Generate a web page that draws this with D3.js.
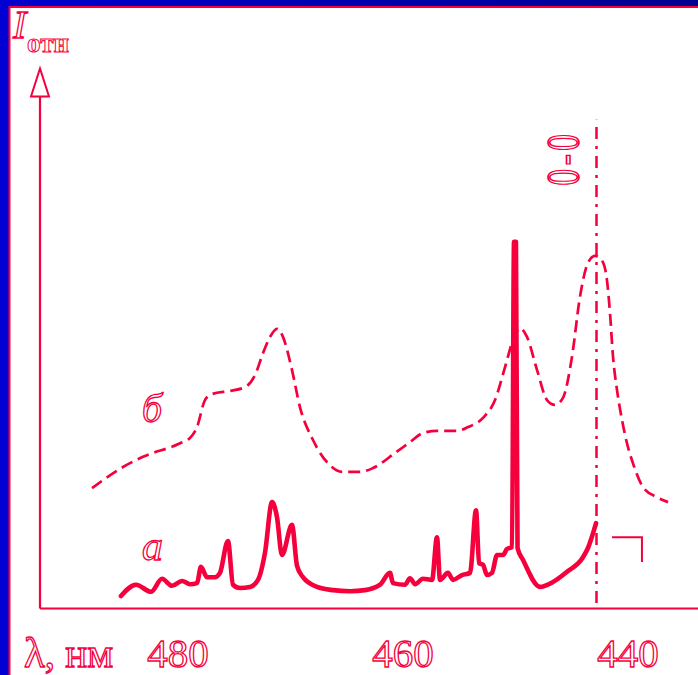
<!DOCTYPE html>
<html>
<head>
<meta charset="utf-8">
<script src="https://cdn.jsdelivr.net/npm/d3@7"></script>
<style>
  html, body { margin: 0; padding: 0; background: #ffffff; }
  svg { display: block; }
</style>
</head>
<body>
<script>
// Emission spectra: relative intensity vs wavelength (nm)
// Curve "а" (solid) — line spectrum
const lambdaA = [485.07, 483.73, 482.40, 481.42, 480.53, 479.64, 478.93, 478.31, 477.96, 477.42,
  476.71, 476.27, 475.56, 475.11, 474.49, 473.60, 472.89, 472.27, 471.64, 471.20,
  470.76, 469.87, 469.42, 468.89, 467.64, 466.22, 464.71, 463.38, 462.04, 461.16,
  460.89, 459.82, 459.38, 458.93, 458.22, 457.42, 456.98, 456.71, 456.00, 455.56,
  454.76, 454.04, 453.51, 453.24, 452.89, 452.53, 452.09, 451.64, 451.11, 450.76,
  450.31, 450.13, 449.96, 449.82, 449.33, 447.82, 446.67, 445.42, 444.00, 443.56, 442.84];
const intensityA = [2.3, 4.4, 3.1, 5.5, 4.2, 5.1, 4.5, 4.7, 7.7, 5.8,
  5.8, 6.6, 12.5, 4.4, 3.8, 4.0, 5.3, 10.3, 19.7, 16.9,
  9.9, 15.5, 7.9, 5.8, 4.0, 3.4, 3.2, 3.4, 4.4, 6.6,
  4.7, 4.4, 5.6, 4.5, 5.5, 5.3, 13.2, 5.3, 6.6, 5.3,
  6.2, 6.6, 18.2, 8.4, 8.1, 6.2, 6.6, 9.9, 9.9, 11.0,
  11.4, 67.9, 67.9, 11.2, 9.0, 4.0, 4.9, 6.8, 9.5, 11.2, 15.8];

// Curve "б" (dashed) — band spectrum
const lambdaB = [487.64, 484.89, 483.11, 479.82, 478.93, 478.31, 477.60, 476.98, 475.38, 474.04,
  473.16, 472.44, 471.82, 471.20, 470.67, 469.87, 469.16, 468.00, 466.67, 465.33,
  463.82, 462.67, 460.71, 459.38, 458.22, 456.98, 455.20, 454.22, 452.89, 451.82,
  450.93, 450.22, 449.60, 448.98, 448.09, 447.20, 446.49, 445.78, 444.98, 444.27,
  443.56, 442.93, 442.31, 441.87, 441.60, 441.33, 440.98, 440.53, 440.09, 439.56,
  438.67, 437.42, 436.44];
const intensityB = [22.3, 26.2, 28.1, 30.6, 31.6, 33.6, 38.6, 39.7, 40.3, 41.0,
  43.2, 47.3, 50.3, 51.8, 50.3, 44.2, 37.3, 31.2, 26.9, 25.3,
  25.3, 26.0, 28.8, 30.8, 32.5, 32.9, 32.9, 33.6, 35.3, 38.6,
  44.7, 49.7, 51.9, 50.3, 44.2, 38.6, 37.7, 39.0, 46.6, 57.7,
  64.0, 65.3, 64.4, 60.8, 54.7, 46.6, 40.5, 34.9, 30.6, 26.9,
  22.5, 20.6, 19.7];

// Wavelength axis ticks
const tickValues = [480, 460, 440];
const tickLabels = ["480", "460", "440"];

// 0–0 transition wavelength (dash-dot marker) and its extent in intensity
const lambda00 = 442.8;
const marker00Range = [1, 90.5];

// Small corner mark near the 0–0 line
const cornerLambda = [441.42, 438.76, 438.76];
const cornerIntensity = [13.2, 13.2, 8.6];

const W = 698, H = 675;
const RED = "#f5003c";

const svg = d3.select("body").append("svg")
  .attr("width", W).attr("height", H);

svg.append("rect").attr("width", W).attr("height", H).attr("fill", "#ffffff");

// Blue border bands with a thin red rule inside
const grad = svg.append("defs").append("linearGradient")
  .attr("id", "topBand").attr("x1", "0").attr("x2", "1");
grad.append("stop").attr("offset", "0").attr("stop-color", "#0000d0");
grad.append("stop").attr("offset", "1").attr("stop-color", "#000090");
svg.append("rect").attr("x", 0).attr("y", 0).attr("width", W).attr("height", 6).attr("fill", "url(#topBand)");
svg.append("rect").attr("x", 0).attr("y", 0).attr("width", 9).attr("height", H).attr("fill", "#0000d4");
svg.append("line").attr("x1", 9).attr("x2", W).attr("y1", 7).attr("y2", 7)
  .attr("stroke", RED).attr("stroke-width", 2);
svg.append("line").attr("x1", 9.5).attr("x2", 9.5).attr("y1", 6).attr("y2", H)
  .attr("stroke", RED).attr("stroke-width", 2);

// Scales: wavelength decreases to the right
const x = d3.scaleLinear().domain([480, 460]).range([178, 403]);
const y = d3.scaleLinear().domain([0, 100]).range([608.5, 68.5]);

const x0 = 40;
const yAxisBase = y(0);

// Axes
svg.append("line").attr("x1", x0).attr("x2", W).attr("y1", yAxisBase).attr("y2", yAxisBase)
  .attr("stroke", RED).attr("stroke-width", 2.2);
svg.append("line").attr("x1", x0).attr("x2", x0).attr("y1", yAxisBase).attr("y2", y(100) + 28)
  .attr("stroke", RED).attr("stroke-width", 2.2);
// Open arrow head at the top of the intensity axis
svg.append("path")
  .attr("d", `M${x0},${y(100)} L${x0 - 9},${y(100) + 28} L${x0 + 9},${y(100) + 28} Z`)
  .attr("fill", "#ffffff").attr("stroke", RED).attr("stroke-width", 2).attr("stroke-linejoin", "miter");

// Outlined text helper
function outlined(sel) {
  return sel.attr("fill", "#ffffff").attr("stroke", RED).attr("stroke-width", 1.3)
    .attr("font-family", "'Liberation Serif', 'DejaVu Serif', serif");
}

// Tick labels
const tickG = svg.append("g");
tickValues.forEach((v, i) => {
  outlined(tickG.append("text"))
    .attr("x", x(v)).attr("y", 667)
    .attr("text-anchor", "middle")
    .attr("font-size", 41)
    .text(tickLabels[i]);
});

// Axis titles
const xTitle = outlined(svg.append("text"))
  .attr("x", 24).attr("y", 667).attr("font-size", 41);
xTitle.append("tspan").attr("font-size", 43).text("λ");
xTitle.append("tspan").text(", нм");
outlined(svg.append("text"))
  .attr("x", 13).attr("y", 38).attr("font-size", 40).attr("font-style", "italic")
  .text("I");
outlined(svg.append("text"))
  .attr("x", 27).attr("y", 52).attr("font-size", 27).attr("font-weight", "bold")
  .attr("stroke-width", 1)
  .text("отн");

// 0–0 marker line
svg.append("line")
  .attr("x1", x(lambda00)).attr("x2", x(lambda00))
  .attr("y1", y(marker00Range[0])).attr("y2", y(marker00Range[1]))
  .attr("stroke", RED).attr("stroke-width", 2.5)
  .attr("stroke-dasharray", "12,7,3,7");

// 0–0 label, rotated
outlined(svg.append("text"))
  .attr("transform", `translate(${x(lambda00) - 18},${158}) rotate(-90) scale(0.72,1)`)
  .attr("text-anchor", "middle")
  .attr("font-size", 46)
  .attr("letter-spacing", 5)
  .attr("stroke-width", 1.6)
  .text("0-0");

// Spectrum curves
const dataA = lambdaA.map((l, i) => [l, intensityA[i]]);
const dataB = lambdaB.map((l, i) => [l, intensityB[i]]);

const line = d3.line()
  .x(d => x(d[0])).y(d => y(d[1]))
  .curve(d3.curveMonotoneX);

svg.append("path").datum(dataB)
  .attr("d", line)
  .attr("fill", "none").attr("stroke", RED).attr("stroke-width", 2.7)
  .attr("stroke-dasharray", "12,6");

svg.append("path").datum(dataA)
  .attr("d", line)
  .attr("fill", "none").attr("stroke", RED).attr("stroke-width", 4.6)
  .attr("stroke-linejoin", "round").attr("stroke-linecap", "round");

// Corner mark
const cornerLine = d3.line().x(d => x(d[0])).y(d => y(d[1]));
svg.append("path")
  .datum(cornerLambda.map((l, i) => [l, cornerIntensity[i]]))
  .attr("d", cornerLine)
  .attr("fill", "none").attr("stroke", RED).attr("stroke-width", 2);

// Curve labels
outlined(svg.append("text"))
  .attr("x", x(483.2)).attr("y", y(34.6)).attr("font-size", 40).attr("font-style", "italic")
  .text("б");
outlined(svg.append("text"))
  .attr("x", x(483.2)).attr("y", y(9)).attr("font-size", 42).attr("font-style", "italic")
  .text("а");
</script>
</body>
</html>
